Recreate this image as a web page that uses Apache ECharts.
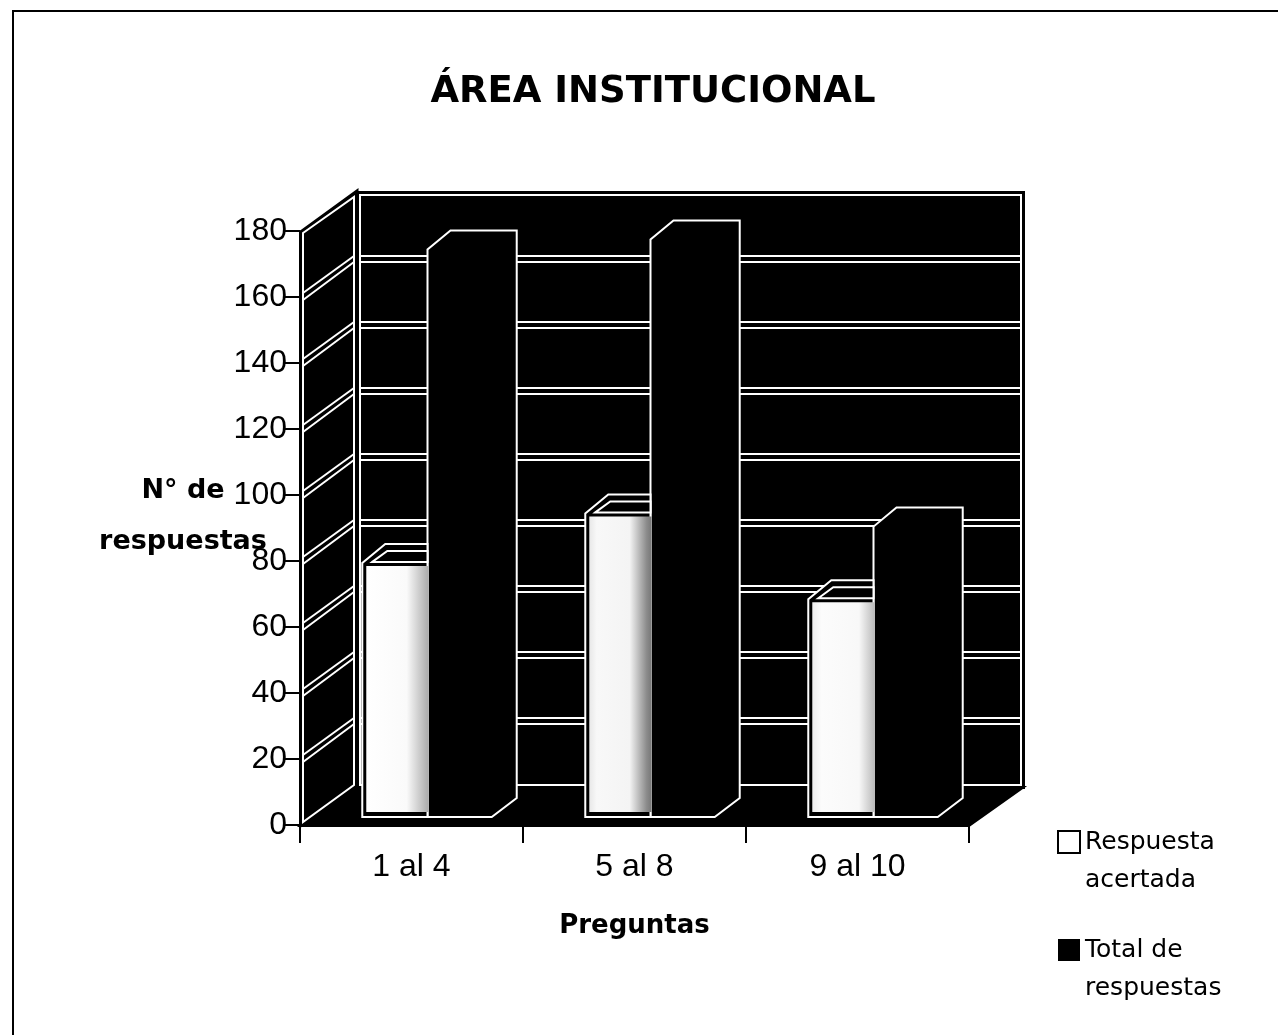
<!DOCTYPE html>
<html>
<head>
<meta charset="utf-8">
<title>Área institucional</title>
<script src="https://cdn.jsdelivr.net/npm/echarts@6/dist/echarts.min.js"></script>
<style>
  html, body { margin: 0; padding: 0; background: #fff; }
  #chart_box { width: 1278px; height: 1035px; }
</style>
</head>
<body>
<div id="chart_box"></div>
<script>
const categories = ['1 al 4', '5 al 8', '9 al 10'];
const respuestaAcertada = [77, 92, 66];
const totalRespuestas = [172, 175, 88];
const tickValues = [0, 20, 40, 60, 80, 100, 120, 140, 160, 180];

const TEXT_FONT = '"DejaVu Sans"';
const NUM_FONT = '"Liberation Sans"';

// pseudo 3D offsets, in pixels
const WALL_DX = 55, WALL_DY = -38;
const BAR_DX = 23, BAR_DY = -19;
const BAR_SHIFT_X = 16, BAR_SHIFT_Y = -8;
const BAR_RATIO = 0.288;

// shading of the dithered front faces, one per bar
const frontShades = [
  [[0, '#ffffff'], [0.65, '#fafafa'], [1, '#aaaaaa']],
  [[0, '#e8e8e8'], [0.12, '#f8f8f8'], [0.65, '#f4f4f4'], [0.92, '#8c8c8c'], [1, '#777777']],
  [[0, '#eeeeee'], [0.15, '#fcfcfc'], [0.75, '#f8f8f8'], [1, '#bbbbbb']]
];

function poly(points, fill, stroke, width) {
  return {
    type: 'polygon',
    shape: { points: points },
    style: { fill: fill, stroke: stroke || null, lineWidth: width || 0 },
    silent: true
  };
}
function line(x1, y1, x2, y2, color, width) {
  return {
    type: 'line',
    shape: { x1: x1, y1: y1, x2: x2, y2: y2 },
    style: { stroke: color, lineWidth: width },
    silent: true
  };
}

// back wall, side wall, floor and the double grid lines
function renderWalls(params, api) {
  const cs = params.coordSys;
  const left = cs.x + 3, right = cs.x + cs.width;
  const v = api.value(0);
  const y = api.coord([0, v])[1];
  const children = [];
  if (v === tickValues[0]) {
    const top = api.coord([0, 180])[1];
    const backL = left + WALL_DX - 1, backR = right + WALL_DX;
    children.push(poly([[backL, top + WALL_DY - 2], [backR + 1, top + WALL_DY - 2], [backR + 1, y + WALL_DY + 2], [backL, y + WALL_DY + 2]], '#000'));
    children.push(poly([[cs.x, y + 1], [backL, y + WALL_DY], [backR, y + WALL_DY], [right, y + 1]], '#000', '#000', 2));
    children.push(poly([[left - 1, top], [backL, top + WALL_DY - 2], [backL, y + WALL_DY], [left - 1, y]], '#000', '#000', 3));
    // inner white outlines
    children.push(poly([[backL + 3, top + WALL_DY + 2], [backR - 3, top + WALL_DY + 2], [backR - 3, y + WALL_DY - 2], [backL + 3, y + WALL_DY - 2]], 'none', '#fff', 2));
    children.push(poly([[left, top + 2], [backL - 3, top + WALL_DY + 4], [backL - 3, y + WALL_DY - 2], [left, y - 3]], 'none', '#fff', 2));
  } else if (v !== tickValues[tickValues.length - 1]) {
    children.push(line(left, y - 4, left + WALL_DX - 4, y + WALL_DY - 3, '#fff', 2));
    children.push(line(left, y + 3, left + WALL_DX - 4, y + WALL_DY + 3, '#fff', 2));
    children.push(line(left + WALL_DX + 2, y + WALL_DY - 3, right + WALL_DX - 3, y + WALL_DY - 3, '#fff', 2));
    children.push(line(left + WALL_DX + 2, y + WALL_DY + 3, right + WALL_DX - 3, y + WALL_DY + 3, '#fff', 2));
  }
  return { type: 'group', children: children };
}

function renderTotal(params, api) {
  const p = api.coord([api.value(0), api.value(1)]);
  const base = api.coord([api.value(0), 0]);
  const w = api.size([1, 0])[0] * BAR_RATIO;
  const x0 = p[0] + BAR_SHIFT_X, x1 = x0 + w;
  const yt = p[1] + BAR_SHIFT_Y, yb = base[1] + BAR_SHIFT_Y;
  return poly([
    [x0, yb], [x0, yt], [x0 + BAR_DX, yt + BAR_DY],
    [x1 + BAR_DX + 2, yt + BAR_DY], [x1 + BAR_DX + 2, yb + BAR_DY], [x1, yb]
  ], '#000', '#fff', 2);
}

function renderAcertada(params, api) {
  const i = api.value(0);
  const p = api.coord([i, api.value(1)]);
  const base = api.coord([i, 0]);
  const w = api.size([1, 0])[0] * BAR_RATIO;
  const x1 = p[0] + BAR_SHIFT_X, x0 = x1 - w - 1;
  const yt = p[1] + BAR_SHIFT_Y, yb = base[1] + BAR_SHIFT_Y;
  const stops = frontShades[i].map(function (s) { return { offset: s[0], color: s[1] }; });
  return {
    type: 'group',
    children: [
      poly([[x0, yb], [x0, yt], [x0 + BAR_DX, yt + BAR_DY], [x1, yt + BAR_DY], [x1, yb]], '#000', '#fff', 2),
      // top face
      poly([[x0 + 10, yt - 1], [x0 + BAR_DX + 2, yt + BAR_DY + 7], [x1, yt + BAR_DY + 7], [x1, yt - 1]], '#000', '#fff', 2),
      // front face
      {
        type: 'rect',
        shape: { x: x0 + 4, y: yt + 3, width: x1 - x0 - 3, height: yb - yt - 8 },
        style: { fill: new echarts.graphic.LinearGradient(0, 0, 1, 0, stops) },
        silent: true
      }
    ]
  };
}

const myEcharts = echarts.init(document.getElementById('chart_box'));
myEcharts.setOption({
  animation: false,
  title: {
    text: 'ÁREA INSTITUCIONAL',
    left: 648,
    top: 69,
    textAlign: 'center',
    textStyle: { fontFamily: TEXT_FONT, fontSize: 37, fontWeight: 'bold', color: '#000' }
  },
  legend: {
    orient: 'vertical',
    left: 1052,
    top: 780,
    height: 400,
    itemGap: -6,
    itemWidth: 22,
    itemHeight: 22,
    icon: 'rect',
    selectedMode: false,
    data: ['Respuesta\nacertada', 'Total de\nrespuestas'],
    // blank first line keeps the swatch level with the first text line
    formatter: function (name) { return '\n' + name; },
    textStyle: { fontFamily: TEXT_FONT, fontSize: 25, lineHeight: 38, color: '#000' }
  },
  grid: { left: 300, right: 309, top: 231, bottom: 210 },
  xAxis: {
    type: 'category',
    data: categories,
    z: 5,
    name: 'Preguntas',
    nameLocation: 'middle',
    nameGap: 88,
    nameTextStyle: { fontFamily: TEXT_FONT, fontSize: 26, fontWeight: 'bold', color: '#000' },
    axisLine: { lineStyle: { color: '#000', width: 2 } },
    axisTick: { show: true, length: 18, lineStyle: { color: '#000', width: 2 } },
    axisLabel: { fontFamily: NUM_FONT, fontSize: 32, color: '#000', margin: 26 }
  },
  yAxis: {
    type: 'value',
    min: 0,
    max: 180,
    interval: 20,
    splitLine: { show: false },
    axisLine: { show: true, lineStyle: { color: '#000', width: 2 } },
    axisTick: { show: true, length: 15, lineStyle: { color: '#000', width: 2 } },
    axisLabel: { fontFamily: NUM_FONT, fontSize: 32, color: '#000', margin: 13, padding: [8, 0, 0, 0] }
  },
  series: [
    {
      name: 'walls',
      type: 'custom',
      silent: true,
      renderItem: renderWalls,
      encode: { y: 0 },
      data: tickValues.map(function (v) { return [v]; })
    },
    {
      name: 'Total de\nrespuestas',
      type: 'custom',
      renderItem: renderTotal,
      itemStyle: { color: '#000' },
      encode: { x: 0, y: 1 },
      data: totalRespuestas.map(function (v, i) { return [i, v]; })
    },
    {
      name: 'Respuesta\nacertada',
      type: 'custom',
      renderItem: renderAcertada,
      itemStyle: { color: '#fff', borderColor: '#000', borderWidth: 2 },
      encode: { x: 0, y: 1 },
      data: respuestaAcertada.map(function (v, i) { return [i, v]; })
    }
  ],
  graphic: [
    {
      type: 'polyline',
      shape: { points: [[13, 1035], [13, 11], [1278, 11]] },
      style: { stroke: '#000', lineWidth: 2, fill: 'none' },
      silent: true
    },
    // y axis title sits over the tick labels, as in the original
    {
      type: 'text',
      x: 183,
      y: 516,
      z: 10,
      silent: true,
      style: {
        text: 'N° de\nrespuestas',
        fontFamily: TEXT_FONT,
        fontSize: 27,
        fontWeight: 'bold',
        lineHeight: 51,
        fill: '#000',
        align: 'center',
        verticalAlign: 'middle'
      }
    }
  ]
});
</script>
</body>
</html>
